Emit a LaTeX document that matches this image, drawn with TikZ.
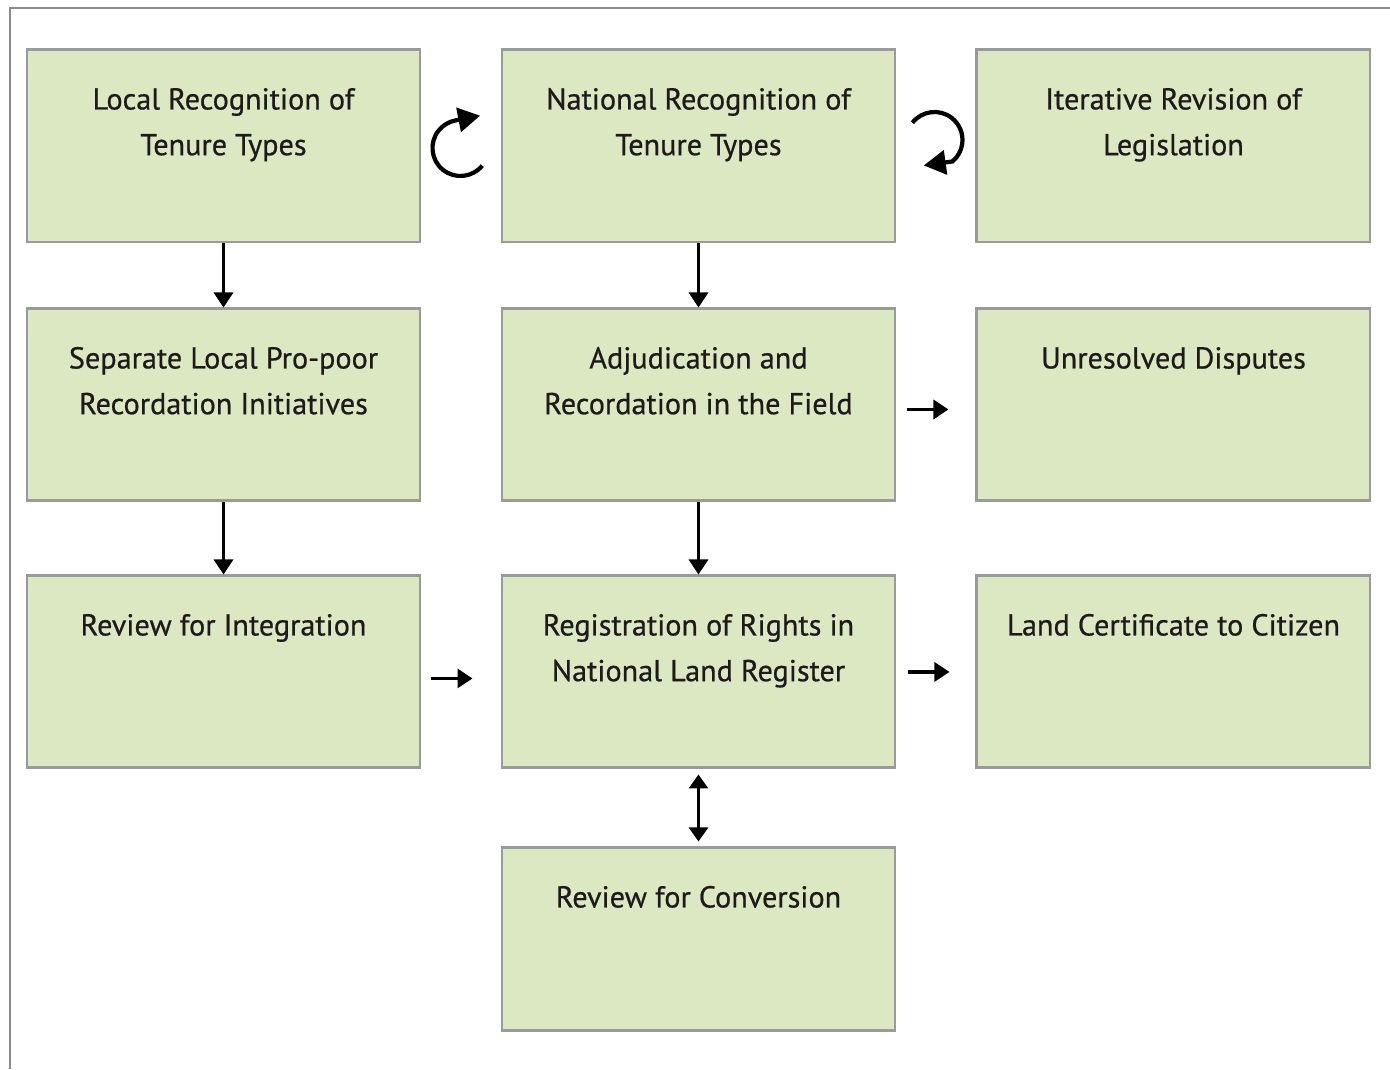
\documentclass[tikz,border=0pt]{standalone}
\usepackage{fontspec}
\setmainfont{PT Sans}[FakeBold=0.6]
\usepackage{xcolor}
\usetikzlibrary{positioning, arrows.meta, calc}

\definecolor{boxfill}{HTML}{DCE8C2}
\definecolor{boxline}{HTML}{9A9A9A}
\definecolor{frameline}{HTML}{8C8C8C}
\definecolor{txt}{HTML}{1E1A1C}

% text set at the top of each box
\newcommand{\boxtxt}[2][3.84cm]{\parbox[c][#1][t]{7.86cm}{\centering\rule{0pt}{1.19cm}#2}}

\begin{document}
\begin{tikzpicture}[
    node distance=1.28cm and 1.58cm,
    every node/.style={font=\fontsize{17.2}{26}\selectfont, text=txt},
    box/.style={draw=boxline, line width=1.7pt, fill=boxfill, inner sep=0pt},
    arr/.style={-{Triangle[length=0.3cm, width=0.38cm]}, line width=1.8pt},
    darr/.style={{Triangle[length=0.28cm, width=0.38cm]}-{Triangle[length=0.28cm, width=0.38cm]}, line width=1.8pt},
    curv/.style={-{Triangle[length=0.44cm, width=0.48cm]}, line width=2.4pt}
]
\useasboundingbox (0,0) rectangle (27.8,21.38);
\draw[frameline, line width=1.1pt] (0.2,0) -- (0.2,21.22) -- (27.8,21.22);

% top row
\node[box] (loc) at (4.47,18.46) {\boxtxt{Local Recognition of\\Tenure Types}};
\node[box, right=of loc] (nat) {\boxtxt{National Recognition of\\Tenure Types}};
\node[box, right=of nat] (iter) {\boxtxt{Iterative Revision of\\Legislation}};

% second row
\node[box, below=of loc] (sep) {\boxtxt{Separate Local Pro-poor\\Recordation Initiatives}};
\node[box, below=of nat] (adj) {\boxtxt{Adjudication and\\Recordation in the Field}};
\node[box, below=of iter] (disp) {\boxtxt{Unresolved Disputes}};

% third row
\node[box, below=1.44cm of sep] (rev) {\boxtxt{Review for Integration}};
\node[box, below=1.44cm of adj] (reg) {\boxtxt{Registration of Rights in\\National Land Register}};
\node[box, below=1.44cm of disp] (cert) {\boxtxt{Land Certificate to Citizen}};

% bottom
\node[box, below=1.54cm of reg] (conv) {\boxtxt[3.66cm]{Review for Conversion}};

\draw[arr] (loc) -- (sep);
\draw[arr] (sep) -- (rev);
\draw[arr] (nat) -- (adj);
\draw[arr] (adj) -- (reg);
\draw[arr, shorten <=0.22cm, shorten >=0.54cm] ([yshift=-0.09cm]adj.east) -- ([yshift=-0.09cm]disp.west);
\draw[arr, shorten <=0.2cm, shorten >=0.56cm] ([yshift=-0.13cm]rev.east) -- ([yshift=-0.13cm]reg.west);
\draw[arr, shorten <=0.24cm, shorten >=0.52cm] (reg.east) -- (cert.west);
\draw[darr, shorten <=0.1cm, shorten >=0.1cm] (reg) -- (conv);

% loops between the top boxes
\coordinate (lloop) at ($($(loc.east)!0.5!(nat.west)$)+(-0.01,-0.04)$);
\coordinate (rloop) at ($($(nat.east)!0.5!(iter.west)$)+(-0.03,0.12)$);
\draw[curv] ([shift={(-39:0.56)}]lloop) arc[start angle=-39, end angle=-260, radius=0.56] -- ++(11:0.5);
\draw[curv] ([shift={(142:0.56)}]rloop) arc[start angle=142, end angle=-50, radius=0.56] -- ++(188:0.58);
\end{tikzpicture}
\end{document}
